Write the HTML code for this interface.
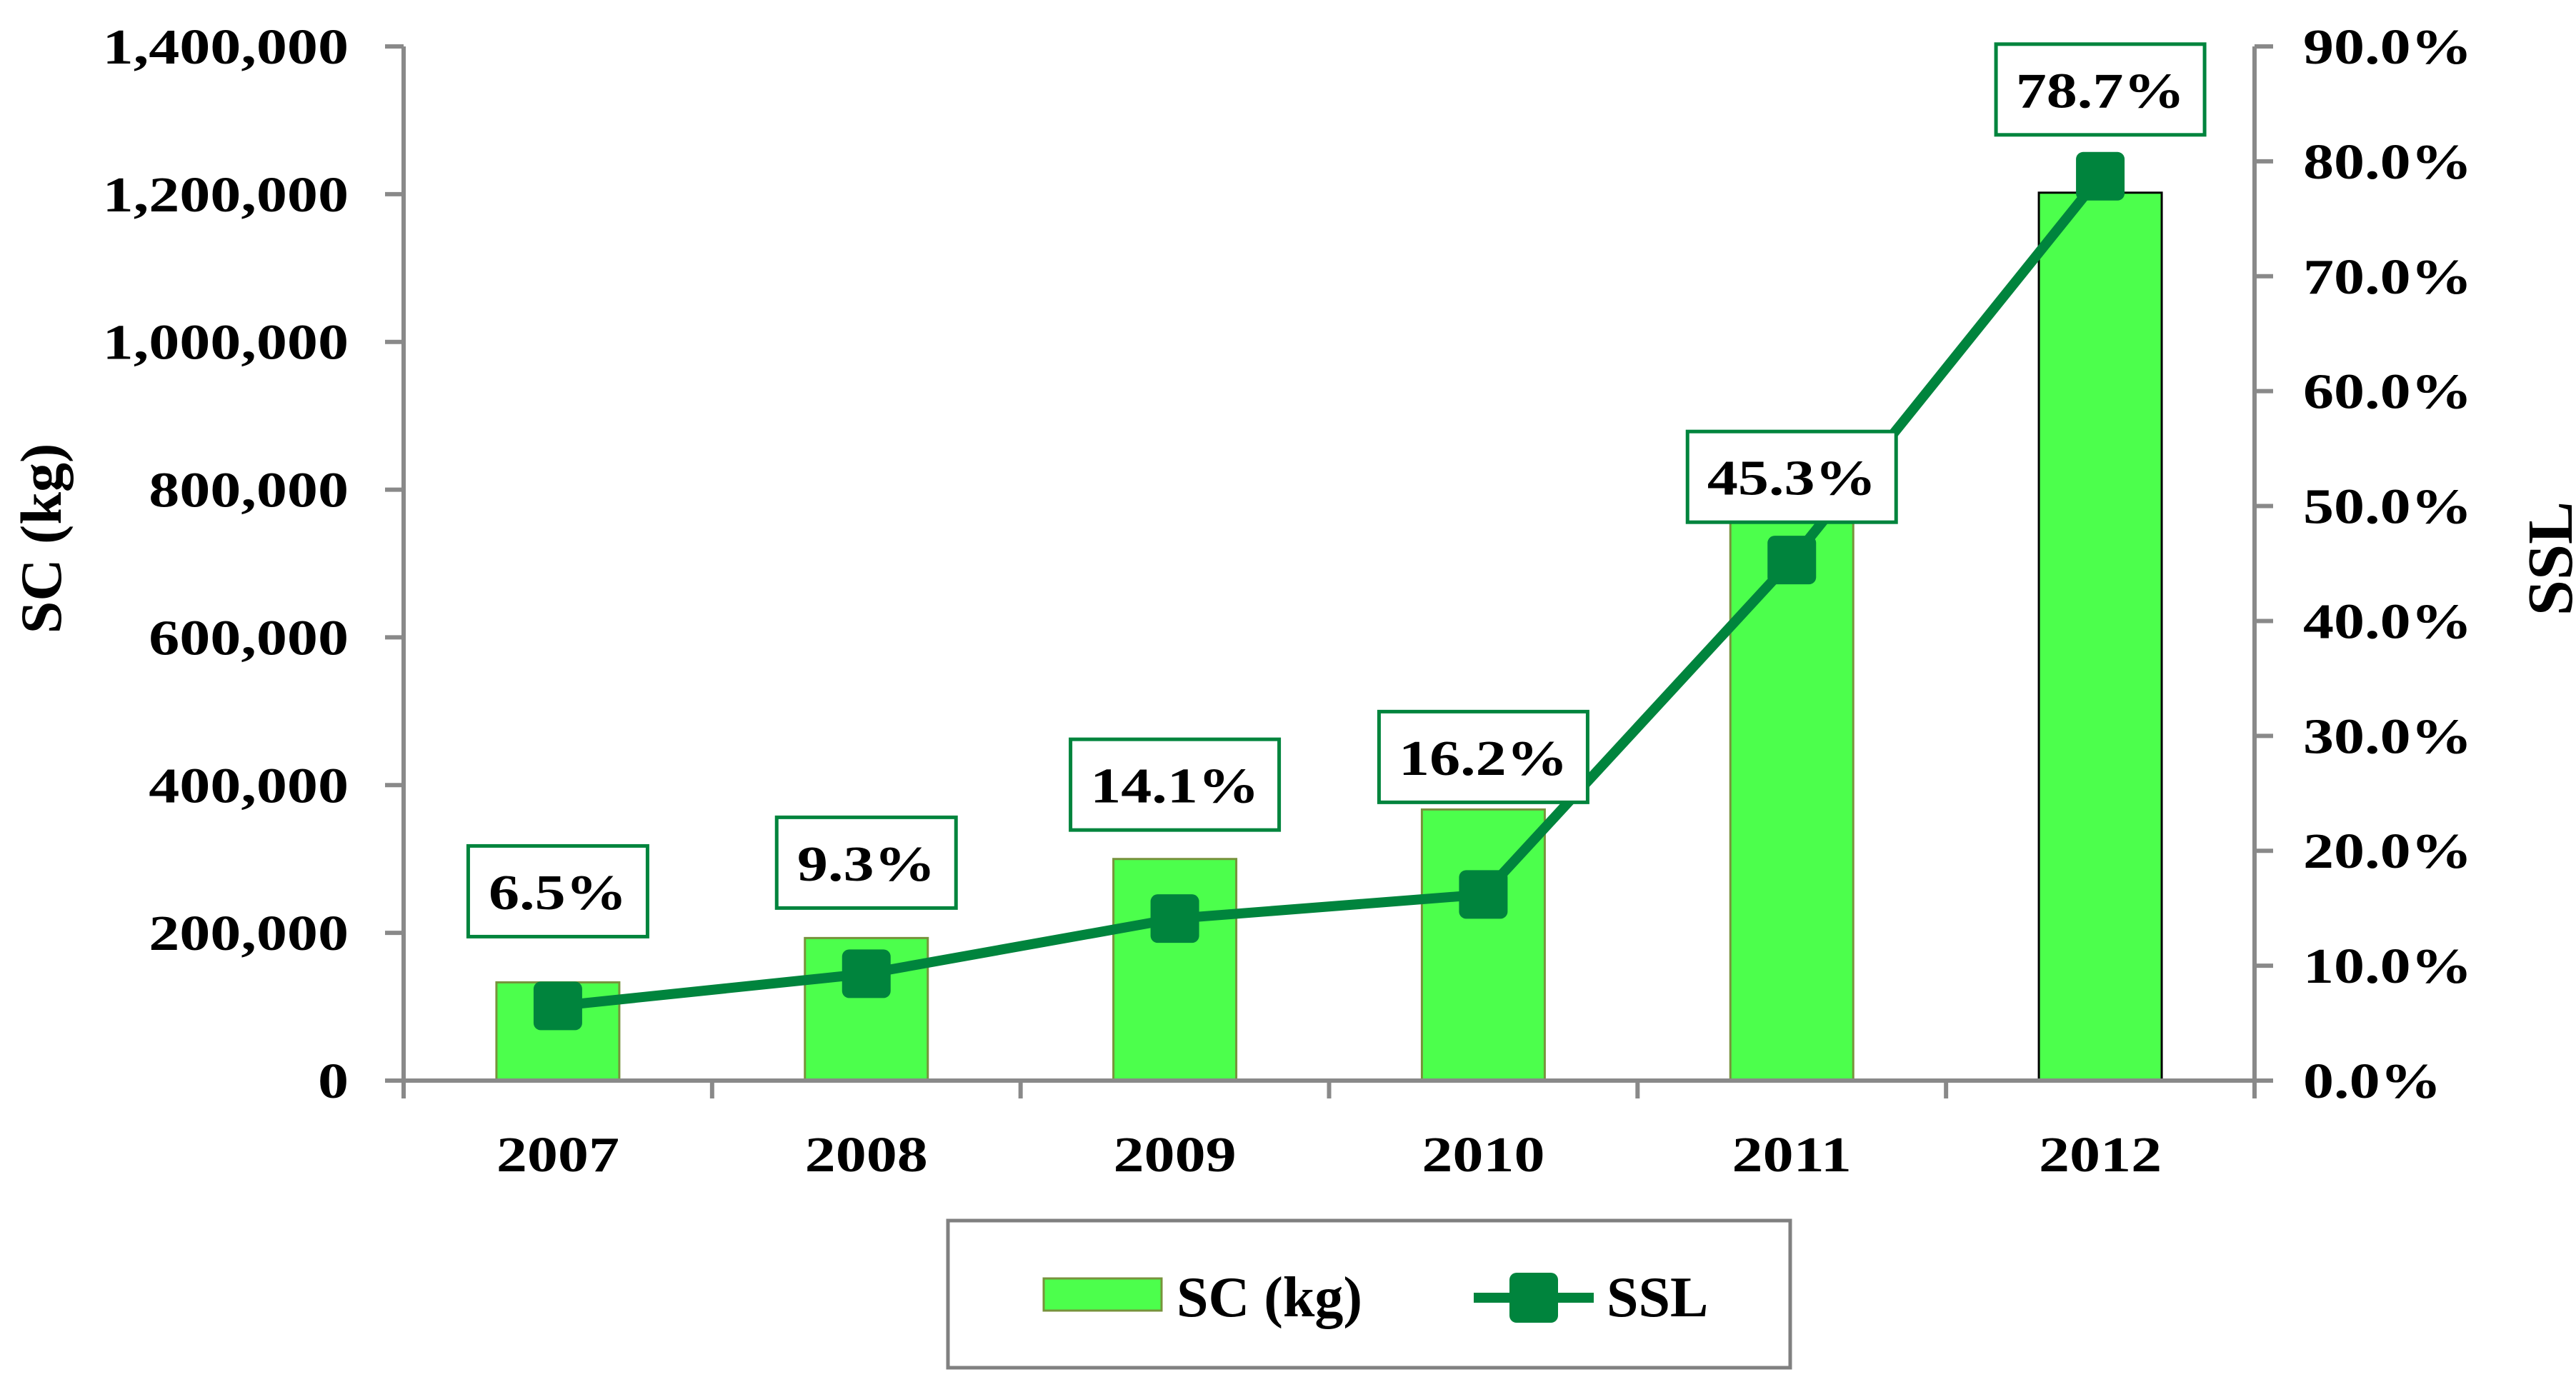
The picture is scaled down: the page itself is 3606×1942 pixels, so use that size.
<!DOCTYPE html>
<html><head><meta charset="utf-8"><style>
html,body{margin:0;padding:0;background:#fff;}
svg{display:block;}
text{font-family:"Liberation Serif",serif;font-weight:bold;fill:#000;}
</style></head><body>
<svg id="chart" width="3606" height="1942" viewBox="0 0 3606 1942" xmlns="http://www.w3.org/2000/svg">
<g id="bars"></g>
<g id="axes"></g>
<g id="line"></g>
<g id="labels"></g>
<text transform="translate(85,754) rotate(-90)" text-anchor="middle" font-size="82">SC (kg)</text>
<text transform="translate(3600,782) rotate(-90)" text-anchor="middle" font-size="90">SSL</text>
<g>
  <rect x="1327" y="1709" width="1179" height="206" fill="#fff" stroke="#808080" stroke-width="5"/>
  <rect x="1461" y="1790" width="165" height="45" fill="#4CFF4C" stroke="#77933C" stroke-width="3"/>
  <text x="1647" y="1843" font-size="80">SC (kg)</text>
  <line x1="2063" y1="1817" x2="2231" y2="1817" stroke="#00843D" stroke-width="14"/>
  <rect x="2113" y="1782" width="68" height="70" rx="10" fill="#00843D"/>
  <text x="2249" y="1843" font-size="80">SSL</text>
</g>
</svg>
<script>
const categories = ["2007","2008","2009","2010","2011","2012"];
const scValues = [133000,193000,300000,367000,780000,1202000];
const sslValues = [6.5,9.3,14.1,16.2,45.3,78.7];
const leftTicks = [0,200000,400000,600000,800000,1000000,1200000,1400000];
const leftTickLabels = ["0","200,000","400,000","600,000","800,000","1,000,000","1,200,000","1,400,000"];
const rightTicks = [0,10,20,30,40,50,60,70,80,90];
const rightTickLabels = ["0.0%","10.0%","20.0%","30.0%","40.0%","50.0%","60.0%","70.0%","80.0%","90.0%"];

const NS="http://www.w3.org/2000/svg";
const X0=565,X1=3156,Y0=1513,Y1=65;
const catW=(X1-X0)/categories.length;
const xC=i=>X0+catW*(i+0.5);
const yL=v=>Y0-(v/1400000)*(Y0-Y1);
const yR=v=>Y0-(v/90)*(Y0-Y1);
function mk(tag,attrs,parent){const e=document.createElementNS(NS,tag);for(const k in attrs)e.setAttribute(k,attrs[k]);parent.appendChild(e);return e;}
const gB=document.getElementById('bars'),gA=document.getElementById('axes'),gLn=document.getElementById('line'),gLb=document.getElementById('labels');
const AX="#898989";
const SX=1.23;
const labelGap=[97,92,124,129,53,58];

scValues.forEach((v,i)=>{
  const bw=172;
  const r=mk('rect',{x:xC(i)-bw/2,y:yL(v),width:bw,height:Y0-yL(v),fill:'#4CFF4C',stroke:i===5?'#000':'#77933C','stroke-width':3},gB);
  
  
});

let a=mk('line',{x1:X0,y1:Y1,x2:X0,y2:Y0+25,stroke:AX,'stroke-width':6},gA);


a=mk('line',{x1:X1,y1:Y1,x2:X1,y2:Y0+25,stroke:AX,'stroke-width':6},gA);


a=mk('line',{x1:X0-26,y1:Y0,x2:X1+26,y2:Y0,stroke:AX,'stroke-width':6},gA);


for(let i=1;i<categories.length;i++){
  const t=mk('line',{x1:X0+catW*i,y1:Y0,x2:X0+catW*i,y2:Y0+25,stroke:AX,'stroke-width':6},gA);
  
  
}
leftTicks.forEach((v,i)=>{
  const y=yL(v);
  const t=mk('line',{x1:X0-26,y1:y,x2:X0,y2:y,stroke:AX,'stroke-width':6},gA);
  
  
  const tx=mk('text',{transform:`translate(488,${y+24}) scale(${SX},1)`,'text-anchor':'end','font-size':70},gA);
  tx.textContent=leftTickLabels[i];
  
  
});
rightTicks.forEach((v,i)=>{
  const y=yR(v);
  const t=mk('line',{x1:X1,y1:y,x2:X1+26,y2:y,stroke:AX,'stroke-width':6},gA);
  
  
  const tx=mk('text',{transform:`translate(3224,${y+24}) scale(${SX},1)`,'font-size':70},gA);
  tx.textContent=rightTickLabels[i];
  
  
});
categories.forEach((c,i)=>{
  const tx=mk('text',{transform:`translate(${xC(i)},1640) scale(${SX},1)`,'text-anchor':'middle','font-size':70},gA);
  tx.textContent=c;
  
  
});

const pts=sslValues.map((v,i)=>xC(i)+','+yR(v)).join(' ');
const pl=mk('polyline',{points:pts,fill:'none',stroke:'#00843D','stroke-width':14,'stroke-linejoin':'round'},gLn);


sslValues.forEach((v,i)=>{
  const m=mk('rect',{x:xC(i)-34,y:yR(v)-34,width:68,height:68,rx:10,fill:'#00843D'},gLn);
  
  
});

sslValues.forEach((v,i)=>{
  const txt=v.toFixed(1)+'%';
  const w=txt.length===4?251:292;
  const bottom=yR(v)-labelGap[i];
  const h=127;
  const r=mk('rect',{x:xC(i)-w/2,y:bottom-h,width:w,height:h,fill:'#fff',stroke:'#00843D','stroke-width':5},gLb);
  
  
  const tx=mk('text',{transform:`translate(${xC(i)},${bottom-h/2+25}) scale(${SX},1)`,'text-anchor':'middle','font-size':70},gLb);
  tx.textContent=txt;
  
  
});
</script>
</body></html>
